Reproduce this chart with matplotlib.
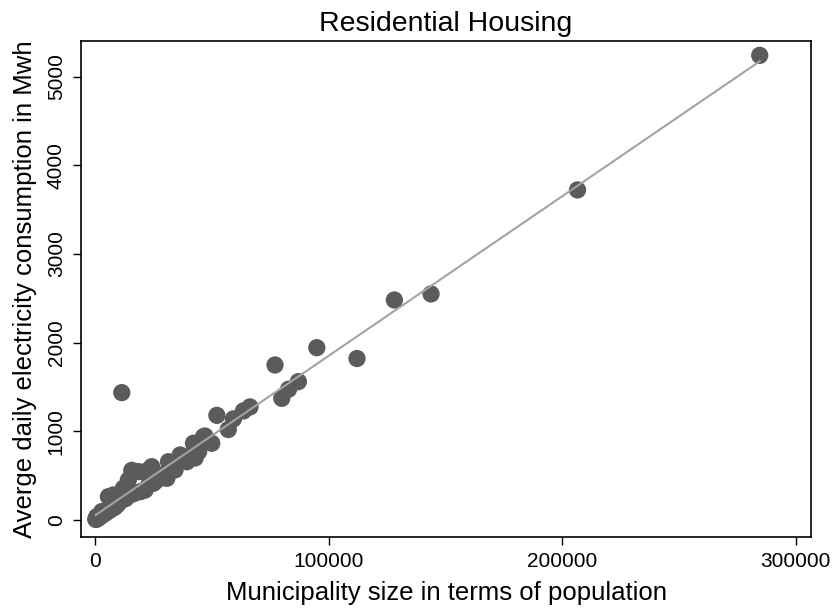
import numpy as np
import matplotlib
matplotlib.use("Agg")
import matplotlib.pyplot as plt

# municipality population and average daily consumption (Mwh)
population = [
    300, 700, 1500, 2200, 2800, 3500, 4300, 5000, 5700, 6500, 7200, 7800,
    8600, 9300, 10000, 11400, 12100, 13000, 14200, 15000, 15700, 16800,
    18500, 19500, 21400, 21400, 23000, 24200, 25000, 26500, 27800, 29000,
    30700, 31400, 33000, 34200, 36400, 37800, 39300, 40500, 42100, 42100,
    42800, 44300, 46400, 47000, 49900, 52100, 57000, 59200, 63500, 66300,
    79900, 82800, 87000, 77000, 94900, 112100, 128100, 143800, 206500, 284500,
    400, 900, 1200, 1800, 2500, 3100, 3900, 4600, 6000, 6900, 8200, 9000,
]
consumption = [
    10, 37, 40, 55, 94, 70, 95, 110, 263, 120, 150, 282,
    180, 175, 188, 1436, 357, 240, 451, 282, 560, 300,
    545, 320, 545, 338, 400, 601, 414, 450, 488, 510,
    470, 657, 560, 564, 733, 680, 657, 720, 865, 714,
    699, 770, 940, 947, 865, 1180, 1020, 1140, 1230, 1275,
    1372, 1474, 1560, 1748, 1943, 1821, 2481, 2549, 3722, 5240,
    5, 15, 20, 30, 45, 55, 70, 80, 105, 125, 140, 160,
]

x = np.array(population, dtype=float)
y = np.array(consumption, dtype=float)
b, a = np.polyfit(x, y, 1)
xl = np.array([x.min(), x.max()])

plt.rcParams['font.family'] = ['Liberation Sans', 'DejaVu Sans']

fig = plt.figure(figsize=(8.38, 6.08), dpi=100)
ax = fig.add_axes([0.0967, 0.1168, 0.8711, 0.8158])

ax.scatter(x, y, s=155, color="#5b5b5b", edgecolors="none", zorder=2)
ax.plot(xl, a + b * xl, color="#a3a3a3", lw=1.5, zorder=3)

ax.set_xlim(-6040, 306460)
ax.set_ylim(-192, 5402)
ax.set_xticks([0, 100000, 200000, 300000])
ax.set_yticks([0, 1000, 2000, 3000, 4000, 5000])
ax.tick_params(direction="out", length=6, width=1, labelsize=15, pad=5)
plt.setp(ax.get_yticklabels(), rotation=90, va="center")
for s in ax.spines.values():
    s.set_linewidth(1.2)

ax.set_xlabel("Municipality size in terms of population", fontsize=18.5, labelpad=7)
ax.set_ylabel("Averge daily electricity consumption in Mwh", fontsize=18.5, labelpad=7)
ax.set_title("Residential Housing", fontsize=20.5, pad=7)

fig.savefig("out.png", dpi=100)
